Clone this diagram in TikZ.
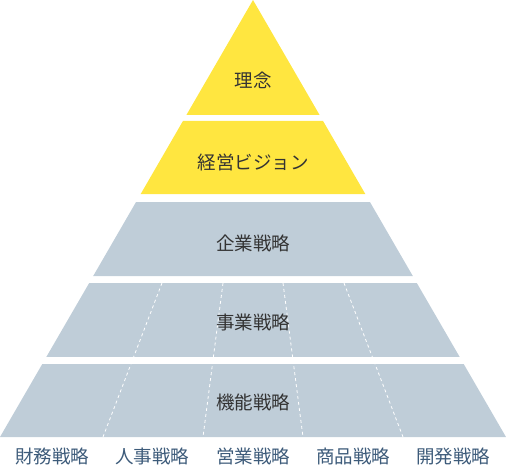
\documentclass[tikz,border=0pt]{standalone}
\usepackage{fontspec}
\setmainfont{Noto Sans CJK JP}
\definecolor{pyel}{HTML}{FFE640}
\definecolor{pgray}{HTML}{BFCDD8}
\definecolor{ptext}{HTML}{333333}
\definecolor{pblue}{HTML}{3D5B7A}
\begin{document}
\begin{tikzpicture}[x=1pt,y=-1pt,
  layer/.style={draw=none},
  lbl/.style={text=ptext,font=\fontsize{18.5}{21}\selectfont,inner sep=0pt},
  blbl/.style={text=pblue,font=\fontsize{18.5}{21}\selectfont,inner sep=0pt},
  divider/.style={white,line width=0.8pt,dash pattern=on 3pt off 3pt}]
\useasboundingbox (0,0) rectangle (506,468);
% layers
\fill[pyel] (253,0) -- (319.6,115) -- (186.4,115) -- cycle;
\fill[pyel] (182.94,121) -- (323.06,121) -- (365.3,194) -- (140.7,194) -- cycle;
\fill[pgray] (136.05,202) -- (369.95,202) -- (412.8,276) -- (93.2,276) -- cycle;
\fill[pgray] (89.2,283) -- (416.8,283) -- (459.7,357) -- (46.3,357) -- cycle;
\fill[pgray] (42.3,364) -- (463.7,364) -- (506,437) -- (0,437) -- cycle;
% dividers
\coordinate (d1t) at (162,283); \coordinate (d1b) at (103,437);
\coordinate (d2t) at (223,283); \coordinate (d2b) at (203,437);
\coordinate (d3t) at (283,283); \coordinate (d3b) at (303,437);
\coordinate (d4t) at (344,283); \coordinate (d4b) at (403,437);
\foreach \i in {1,2,3,4}{\draw[divider] (d\i t) -- (d\i b);}
\fill[white] (0,357) rectangle (506,364);
% labels
\node[lbl] (rinen) at (253,80) {理念};
\node[lbl] (vision) at (253,162) {経営ビジョン};
\node[lbl] (kigyo) at (253,243) {企業戦略};
\node[lbl] (jigyo) at (253,322) {事業戦略};
\node[lbl] (kino) at (253,402) {機能戦略};
\node[blbl] (zaimu) at (52,456) {財務戦略};
\node[blbl] (jinji) at (152,456) {人事戦略};
\node[blbl] (eigyo) at (253,456) {営業戦略};
\node[blbl] (shohin) at (353,456) {商品戦略};
\node[blbl] (kaihatsu) at (453,456) {開発戦略};
\end{tikzpicture}
\end{document}
